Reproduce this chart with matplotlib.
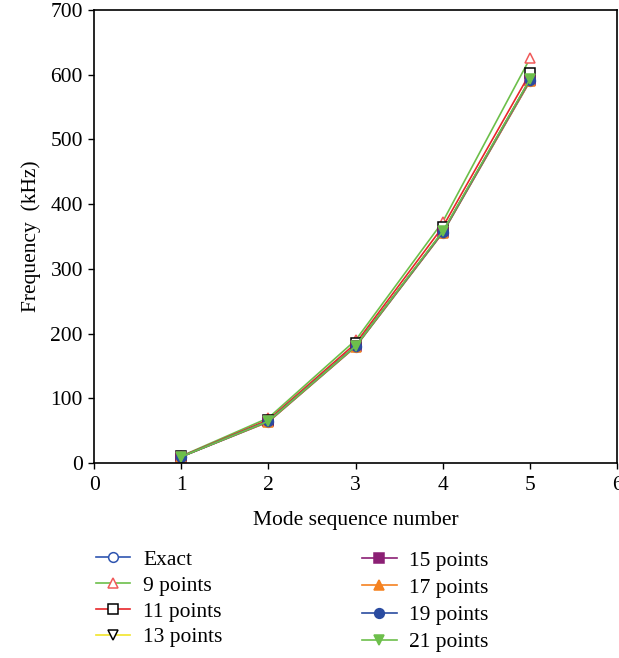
import matplotlib
matplotlib.use("Agg")
import matplotlib.pyplot as plt

plt.rcParams['font.family'] = ['Liberation Serif', 'DejaVu Serif']

modes = [1, 2, 3, 4, 5]
exact = [10, 64, 180, 356, 590]
pts9 = [11, 70, 190, 373, 625]
pts11 = [10.5, 67, 185, 365, 602]
pts13 = [10, 65, 181, 357, 592]
pts15 = [10, 65, 181, 357, 592]
pts17 = [10, 64, 180, 356, 590]
pts19 = [10, 65, 181, 357, 592]
pts21 = [10, 65, 181, 358, 593]

labels = ["Exact", "9 points", "11 points", "13 points",
          "15 points", "17 points", "19 points", "21 points"]
series = [exact, pts9, pts11, pts13, pts15, pts17, pts19, pts21]
styles = [
    dict(color='#2f55b0', marker='o', mfc='white', mec='#2f55b0'),
    dict(color='#6cbf4a', marker='^', mfc='white', mec='#f05a5a'),
    dict(color='#e8262a', marker='s', mfc='white', mec='black'),
    dict(color='#f2e52a', marker='v', mfc='white', mec='black'),
    dict(color='#8b1f74', marker='s', mfc='#8b1f74', mec='#8b1f74'),
    dict(color='#f58220', marker='^', mfc='#f58220', mec='#f58220'),
    dict(color='#2a4ba0', marker='o', mfc='#2a4ba0', mec='#2a4ba0'),
    dict(color='#6dbf4b', marker='v', mfc='#6dbf4b', mec='#6dbf4b'),
]

FS = 15.5

fig = plt.figure(figsize=(6.19, 6.58), dpi=100)
ax = fig.add_axes([0.152, 0.296, 0.845, 0.689])

handles = []
for lab, ys, st in zip(labels, series, styles):
    h, = ax.plot(modes, ys, lw=1.2, ms=7, mew=1.1, label=lab, **st)
    handles.append(h)

ax.set_xlim(0, 6)
ax.set_ylim(0, 700)
ax.set_xticks([0, 1, 2, 3, 4, 5, 6])
ax.set_yticks(range(0, 701, 100))
ax.tick_params(direction='out', length=4, width=1, labelsize=FS, colors='black')
ax.tick_params(axis='x', pad=5)
ax.tick_params(axis='y', pad=4)
for s in ax.spines.values():
    s.set_linewidth(1.2)
ax.set_xlabel("Mode sequence number", fontsize=FS, labelpad=11.5)
ax.set_ylabel("Frequency  (kHz)", fontsize=FS, labelpad=7)

common = dict(loc='upper left', frameon=False, fontsize=FS, borderpad=0,
              borderaxespad=0, handlelength=1.6, handletextpad=0.6)
leg1 = fig.legend(handles[:4], labels[:4], bbox_to_anchor=(0.155, 0.1645),
                  labelspacing=0.27, **common)
leg2 = fig.legend(handles[4:], labels[4:], bbox_to_anchor=(0.585, 0.163),
                  labelspacing=0.33, **common)

fig.savefig("out.png", dpi=100)
